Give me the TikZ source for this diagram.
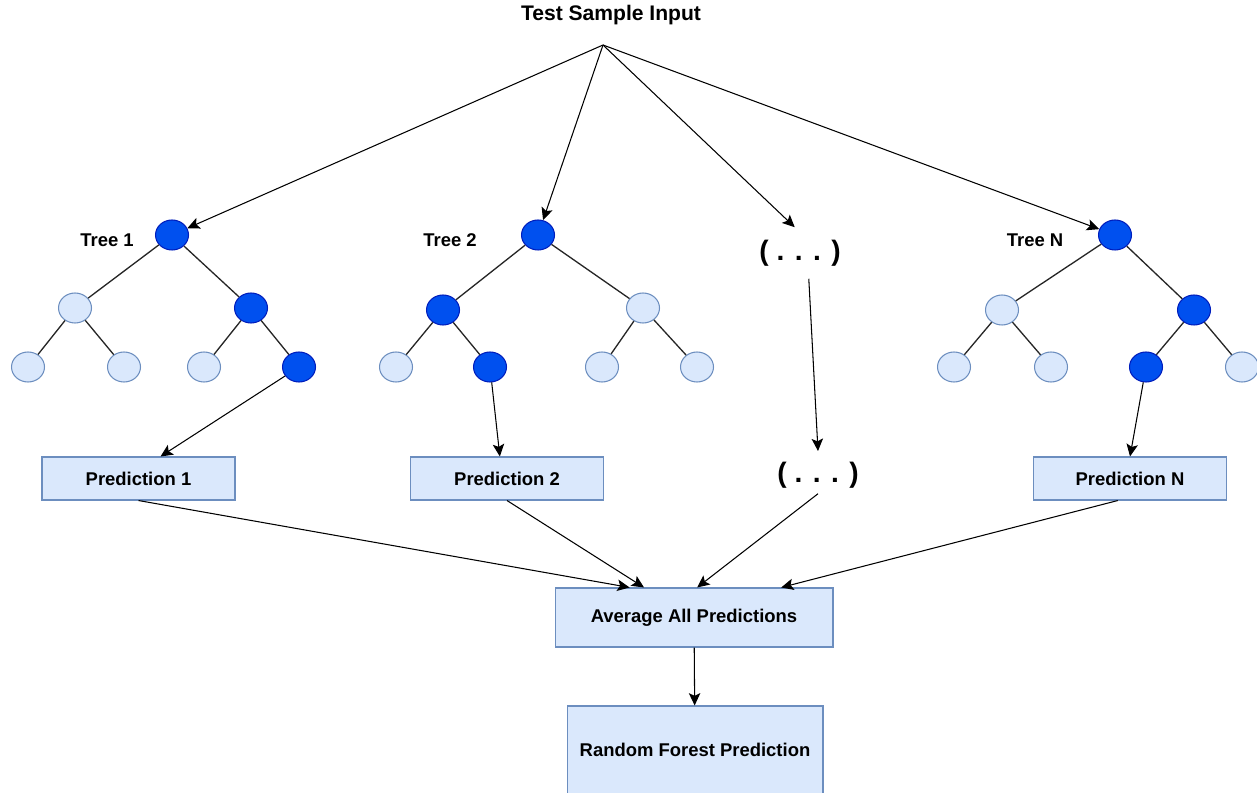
\documentclass[tikz,border=0pt]{standalone}
\usepackage{fontspec}
\setmainfont{Liberation Sans}
\usetikzlibrary{shapes.geometric,arrows.meta}

\definecolor{darkfill}{HTML}{0050EF}
\definecolor{darkline}{HTML}{001DBC}
\definecolor{lightfill}{HTML}{DAE8FC}
\definecolor{lightline}{HTML}{6C8EBF}

\tikzset{
  treenode/.style={ellipse, line width=0.6pt, minimum width=0.66cm, minimum height=0.6cm, inner sep=0pt},
  dark/.style={treenode, draw=darkline, fill=darkfill},
  light/.style={treenode, draw=lightline, fill=lightfill},
  box/.style={rectangle, draw=lightline, fill=lightfill, line width=0.6pt, font=\bfseries\fontsize{10.5}{12}\selectfont},
  predbox/.style={box, minimum width=3.86cm, minimum height=0.86cm},
  lbl/.style={font=\bfseries\fontsize{10.5}{12}\selectfont},
  dots/.style={font=\bfseries\fontsize{16}{18}\selectfont, inner ysep=7pt},
  branch/.style={line width=0.75pt, draw=black!85},
  arr/.style={-{Stealth[length=7pt,width=6.5pt,inset=1.5pt]}, line width=0.6pt}
}

\begin{document}
\begin{tikzpicture}[x=0.02cm,y=-0.02cm]
\useasboundingbox (0,0) rectangle (1257,793);

% input
\node[font=\bfseries\fontsize{12}{14}\selectfont] (title) at (611,15) {Test Sample Input};
\coordinate (apex) at (603,45);

% =========================
% Tree 1
% =========================
\begin{scope}[shift={(172,235)}]
  % label
  \node[lbl] (t1lbl) at (-65,5) {Tree 1};

  % nodes
  \node[dark]  (t1r)  at (0,0) {};
  \node[light] (t1a)  at (-97,73) {};
  \node[dark]  (t1b)  at (79,73) {};
  \node[light] (t1aa) at (-144,132) {};
  \node[light] (t1ab) at (-48,132) {};
  \node[light] (t1ba) at (32,132) {};
  \node[dark]  (t1bb) at (127,132) {};

  % branches
  \draw[branch] (t1r) -- (t1a);
  \draw[branch] (t1r) -- (t1b);
  \draw[branch] (t1a) -- (t1aa);
  \draw[branch] (t1a) -- (t1ab);
  \draw[branch] (t1b) -- (t1ba);
  \draw[branch] (t1b) -- (t1bb);
\end{scope}

% =========================
% Tree 2
% =========================
\begin{scope}[shift={(538,235)}]
  % label
  \node[lbl] (t2lbl) at (-88,5) {Tree 2};

  % nodes
  \node[dark]  (t2r)  at (0,0) {};
  \node[dark]  (t2a)  at (-95,75) {};
  \node[light] (t2b)  at (105,73) {};
  \node[light] (t2aa) at (-142,132) {};
  \node[dark]  (t2ab) at (-48,132) {};
  \node[light] (t2ba) at (64,132) {};
  \node[light] (t2bb) at (159,132) {};

  % branches
  \draw[branch] (t2r) -- (t2a);
  \draw[branch] (t2r) -- (t2b);
  \draw[branch] (t2a) -- (t2aa);
  \draw[branch] (t2a) -- (t2ab);
  \draw[branch] (t2b) -- (t2ba);
  \draw[branch] (t2b) -- (t2bb);
\end{scope}

% =========================
% Tree N
% =========================
\begin{scope}[shift={(1115,235)}]
  % label
  \node[lbl] (tNlbl) at (-80,5) {Tree N};

  % nodes
  \node[dark]  (tNr)  at (0,0) {};
  \node[light] (tNa)  at (-113,75) {};
  \node[dark]  (tNb)  at (79,75) {};
  \node[light] (tNaa) at (-161,132) {};
  \node[light] (tNab) at (-64,132) {};
  \node[dark]  (tNba) at (31,132) {};
  \node[light] (tNbb) at (127,132) {};

  % branches
  \draw[branch] (tNr) -- (tNa);
  \draw[branch] (tNr) -- (tNb);
  \draw[branch] (tNa) -- (tNaa);
  \draw[branch] (tNa) -- (tNab);
  \draw[branch] (tNb) -- (tNba);
  \draw[branch] (tNb) -- (tNbb);
\end{scope}

% the trees left out
\node[dots] (dots1) at (800,253) {( . . . )};
\node[dots, inner ysep=3pt] (dots2) at (818,475) {( . . . )};

% predictions
\node[predbox] (p1) at (138.5,478.5) {Prediction 1};
\node[predbox] (p2) at (507,478.5) {Prediction 2};
\node[predbox] (pN) at (1130,478.5) {Prediction N};

\node[box, minimum width=5.56cm, minimum height=1.18cm] (avg) at (694,617.5) {Average All Predictions};
\node[box, minimum width=5.12cm, minimum height=1.76cm] (rf) at (695,750) {Random Forest Prediction};

% input to trees
\draw[arr] (apex) -- (t1r);
\draw[arr] (apex) -- (t2r);
\draw[arr] (apex) -- ([xshift=-3pt]dots1.north);
\draw[arr] (apex) -- (tNr);

% trees to predictions
\draw[arr] (t1bb) -- (p1.45);
\draw[arr] (t2ab) -- (p2.108);
\draw[arr] ([xshift=5pt]dots1.south) -- ([yshift=3pt]dots2.north);
\draw[arr] (tNba) -- (pN.north);

% predictions to average
\draw[arr] (p1.south) -- (avg.155);
\draw[arr] (p2.south) -- (avg.149);
\draw[arr] (dots2.south) -- (avg.84);
\draw[arr] (pN.241) -- (avg.19);

% final
\draw[arr] (avg) -- (rf);

\end{tikzpicture}
\end{document}
